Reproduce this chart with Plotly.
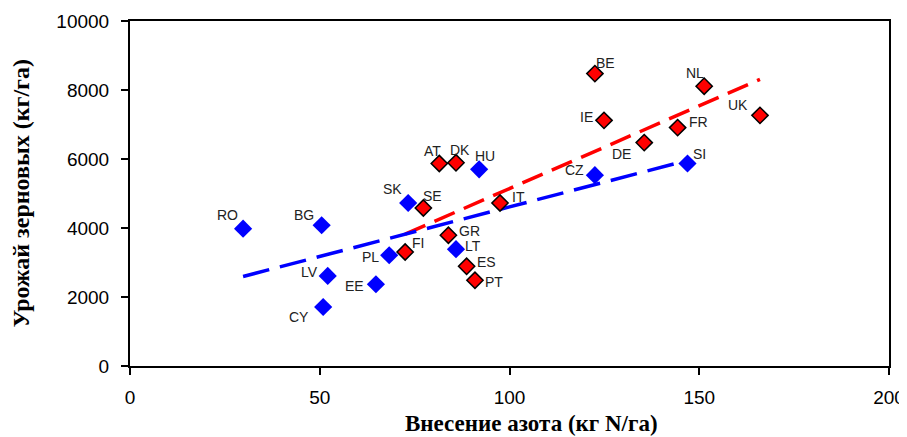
import numpy as np
import plotly.graph_objects as go

# ---- data: new EU members (blue) ----
new_codes = ["RO", "BG", "LV", "CY", "EE", "PL", "SK", "LT", "HU", "CZ", "SI"]
new_n = [29.8, 50.5, 52.1, 50.9, 64.8, 68.3, 73.3, 85.9, 92.0, 122.5, 146.9]
new_yield = [3980, 4080, 2610, 1710, 2370, 3210, 4725, 3385, 5700, 5530, 5870]

# ---- data: old EU members (red) ----
old_codes = ["SE", "FI", "AT", "DK", "GR", "ES", "PT", "IT", "BE", "IE", "DE", "FR", "NL", "UK"]
old_n = [77.3, 72.5, 81.5, 85.9, 83.9, 88.7, 90.9, 97.5, 122.5, 124.9, 135.5, 144.3, 151.3, 166.0]
old_yield = [4580, 3305, 5870, 5890, 3790, 2890, 2485, 4725, 8475, 7120, 6475, 6910, 8110, 7265]

x_ticks = [0, 50, 100, 150, 200]
y_ticks = [0, 2000, 4000, 6000, 8000, 10000]

x_title = "Внесение азота (кг N/га)"
y_title = "Урожай зерновых (кг/га)"

# label offsets in pixels (style, not data): (dx, dy up)
label_offsets = {
    "RO": (-16, 14), "BG": (-18, 10), "LV": (-18, 4), "CY": (-24, -10),
    "EE": (-21, -2), "PL": (-19, -2), "SK": (-16, 14), "LT": (17, 3),
    "HU": (6, 13), "CZ": (-20, 5), "SI": (12, 9),
    "SE": (9, 12), "FI": (13, 9), "AT": (-7, 12), "DK": (4, 13),
    "GR": (21, 4), "ES": (20, 4), "PT": (19, -2), "IT": (18, 6),
    "BE": (11, 11), "IE": (-18, 3), "DE": (-23, -11), "FR": (21, 6),
    "NL": (-9, 13), "UK": (-22, 10),
}

BLUE = "#0000FF"
RED = "#FF0000"


def trend(xs, ys):
    k, b = np.polyfit(xs, ys, 1)
    x0, x1 = min(xs), max(xs)
    return [x0, x1], [k * x0 + b, k * x1 + b]


fig = go.Figure()

rx, ry = trend(old_n, old_yield)
fig.add_trace(go.Scatter(x=rx, y=ry, mode="lines",
                         line=dict(color=RED, width=3.5, dash="22px,10px"),
                         hoverinfo="skip", showlegend=False))
bx, by = trend(new_n, new_yield)
fig.add_trace(go.Scatter(x=bx, y=by, mode="lines",
                         line=dict(color=BLUE, width=3.5, dash="27px,11px"),
                         hoverinfo="skip", showlegend=False))

fig.add_trace(go.Scatter(x=new_n, y=new_yield, mode="markers", text=new_codes,
                         marker=dict(symbol="diamond", size=14, color=BLUE,
                                     line=dict(width=0)),
                         showlegend=False))
fig.add_trace(go.Scatter(x=old_n, y=old_yield, mode="markers", text=old_codes,
                         marker=dict(symbol="diamond", size=12.5, color=RED,
                                     line=dict(width=1.5, color="black")),
                         showlegend=False))

for codes, xs, ys in [(new_codes, new_n, new_yield), (old_codes, old_n, old_yield)]:
    for c, xv, yv in zip(codes, xs, ys):
        dx, dy = label_offsets[c]
        fig.add_annotation(x=xv, y=yv, text=c, showarrow=False,
                           xshift=dx, yshift=dy,
                           font=dict(family="Liberation Sans, Arial", size=14,
                                     color="#222222"))

# axis titles as annotations for exact placement
fig.add_annotation(xref="paper", yref="paper", x=0.5, y=0, xanchor="center",
                   yanchor="middle", xshift=22, yshift=-57, showarrow=False,
                   text="<b>" + x_title + "</b>",
                   font=dict(family="Liberation Serif, Times New Roman", size=23,
                             color="black"))
fig.add_annotation(xref="paper", yref="paper", x=0, y=0.5, xanchor="center",
                   yanchor="middle", xshift=-110, showarrow=False, textangle=-90,
                   text="<b>" + y_title + "</b>",
                   font=dict(family="Liberation Serif, Times New Roman", size=24,
                             color="black"))

axis_common = dict(showgrid=False, zeroline=False, showline=True,
                   linecolor="black", linewidth=2, mirror=True,
                   ticks="outside", ticklen=7, tickwidth=1.5, tickcolor="black",
                   tickfont=dict(family="Liberation Sans, Arial", size=19,
                                 color="black"))

fig.update_xaxes(range=[0, 200], tickvals=x_ticks, ticktext=[str(v) for v in x_ticks],
                 ticklabelstandoff=6, **axis_common)
fig.update_yaxes(range=[0, 10000], tickvals=y_ticks, ticktext=[str(v) for v in y_ticks],
                 ticklabelstandoff=8, **axis_common)

# page body adds an 8px offset; margins compensate so the plot area lands
# where it does in the reference
fig.update_layout(width=907, height=437,
                  margin=dict(l=122, r=26, t=13, b=79, autoexpand=False),
                  plot_bgcolor="white", paper_bgcolor="white",
                  showlegend=False)

fig.write_html("out.html")
